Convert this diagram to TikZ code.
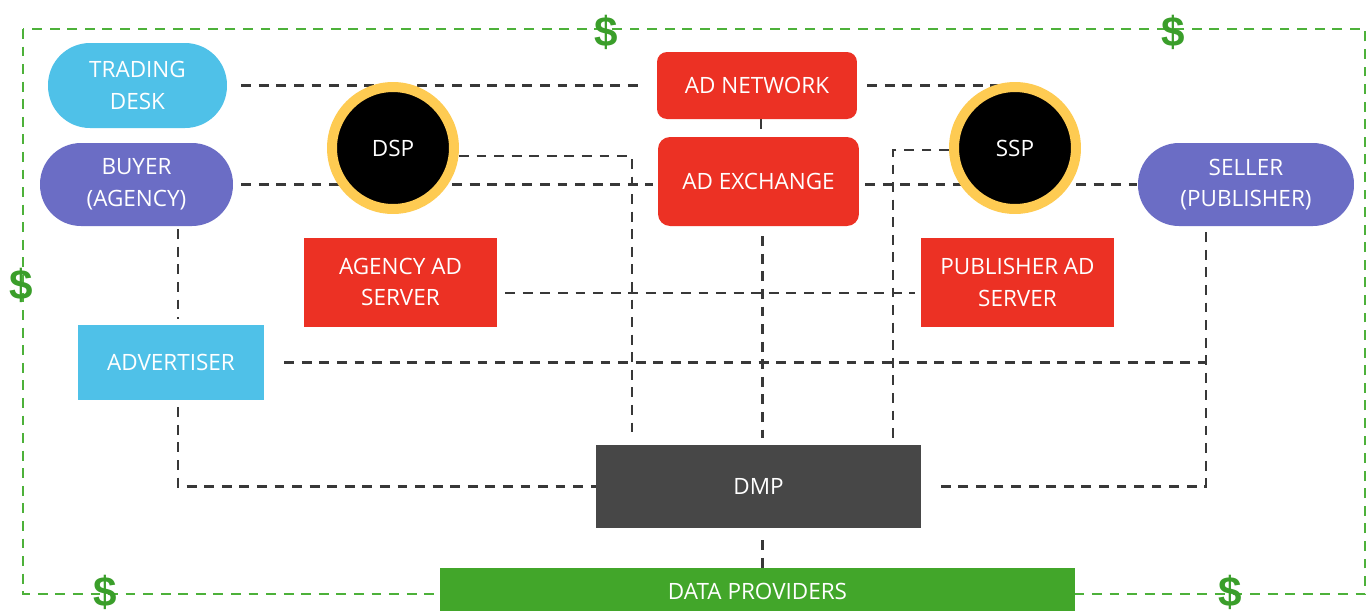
\documentclass[tikz,border=0pt]{standalone}
\usepackage{fontspec}
\setmainfont{Open Sans}
\newfontfamily\dollarfont{Liberation Sans}
\usetikzlibrary{backgrounds}
\definecolor{lblue}{HTML}{4FC1E8}
\definecolor{lpurple}{HTML}{6B6DC5}
\definecolor{adred}{HTML}{EC3124}
\definecolor{ringyellow}{HTML}{FECB52}
\definecolor{dmpgray}{HTML}{474747}
\definecolor{dpgreen}{HTML}{42A62A}
\definecolor{framegreen}{HTML}{4DB13A}
\definecolor{dollargreen}{HTML}{3A9E2A}
\definecolor{linegray}{HTML}{383838}
\tikzset{
  box/.style={inner sep=0pt, text=white, align=center,
    font=\fontsize{12.8pt}{18pt}\selectfont},
  pill/.style={box, rounded corners=0.82cm, minimum height=1.66cm},
  redbox/.style={box, fill=adred},
  ring/.style={box, circle, fill=black, draw=ringyellow, line width=0.2cm, minimum size=2.44cm},
  conn/.style={draw=linegray, line width=1.25pt, dash pattern=on 5.6pt off 4.4pt},
  frame/.style={draw=framegreen, line width=1.1pt, dash pattern=on 5.6pt off 4.4pt},
  dollar/.style={inner sep=0pt, text=dollargreen, font=\dollarfont\bfseries\fontsize{24pt}{24pt}\selectfont}
}
\begin{document}
\begin{tikzpicture}[x=0.02cm,y=-0.02cm]
\useasboundingbox (0,0) rectangle (1367,610);
% nodes
\node[pill, fill=lblue, minimum width=3.58cm, minimum height=1.70cm, rounded corners=0.84cm] (td) at (137.5,85.5) {TRADING\\DESK};
\node[pill, fill=lpurple, minimum width=3.86cm] (buyer) at (136.5,184.5) {BUYER\\(AGENCY)};
\node[pill, fill=lpurple, minimum width=4.32cm] (seller) at (1246,184.5) {SELLER\\(PUBLISHER)};
\node[redbox, rounded corners=0.2cm, minimum width=4.00cm, minimum height=1.34cm] (an) at (757,85.5) {AD NETWORK};
\node[redbox, rounded corners=0.24cm, minimum width=4.02cm, minimum height=1.78cm] (ax) at (758.5,181.5) {AD EXCHANGE};
\node[ring] (dsp) at (393,148) {DSP};
\node[ring] (ssp) at (1015,148) {SSP};
\node[redbox, minimum width=3.86cm, minimum height=1.78cm] (aas) at (400.5,282) {AGENCY AD\\SERVER};
\node[redbox, minimum width=3.86cm, minimum height=1.78cm] (pas) at (1017.5,282.5) {PUBLISHER AD\\SERVER};
\node[box, fill=lblue, minimum width=3.72cm, minimum height=1.50cm] (adv) at (171,362.5) {ADVERTISER};
\node[box, fill=dmpgray, minimum width=6.50cm, minimum height=1.66cm] (dmp) at (758.5,486.5) {DMP};
\node[box, fill=dpgreen, minimum width=12.70cm, minimum height=0.92cm] (dp) at (757.5,591) {DATA PROVIDERS};
% frame corners and joints
\coordinate (ftl) at (23,29);
\coordinate (fbr) at (1365,594);
\coordinate (sj) at ([xshift=-0.8cm]seller.south);
% dollars
\node[dollar] (d1) at (606,32) {\$};
\node[dollar] (d2) at (1173,32) {\$};
\node[dollar] (d3) at (21,285) {\$};
\node[dollar] (d4) at (105,592) {\$};
\node[dollar] (d5) at (1230,592) {\$};
\begin{pgfonlayer}{background}
\fill[white] (0,0) rectangle (1367,610);
\draw[frame] (ftl) rectangle (fbr);
% trading desk -- ad network -- ssp
\draw[conn, shorten <=0.28cm, shorten >=0.34cm] (td.east) -- (td.east -| an.west);
\draw[conn, shorten <=0.2cm] (an.east) -- (an.east -| ssp.center);
% buyer -- ad exchange -- seller
\draw[conn, shorten <=0.16cm, shorten >=0.1cm] (buyer.east) -- (buyer.east -| ax.west);
\draw[conn, shorten <=0.12cm, shorten >=0.02cm] (buyer.east -| ax.east) -- (seller.west);
% ad network -- ad exchange -- dmp -- data providers
\draw[conn] ([xshift=0.08cm]an.south) -- ([xshift=0.08cm]an.south |- ax.north);
\draw[conn, shorten <=0.2cm, shorten >=0.14cm] ([xshift=0.08cm]ax.south) -- ([xshift=0.08cm]ax.south |- dmp.north);
\draw[conn, shorten <=0.24cm] ([xshift=0.08cm]dmp.south) -- ([xshift=0.08cm]dmp.south |- dp.north);
% dsp -- dmp, ssp -- dmp
\draw[conn, shorten >=0.2cm] ([yshift=-0.16cm]dsp.east) -| ([xshift=0.72cm]dmp.north west);
\draw[conn, shorten >=0.14cm] ([yshift=-0.04cm]ssp.west) -| ([xshift=-0.56cm]dmp.north east);
% agency ad server -- publisher ad server
\draw[conn, shorten <=0.16cm, shorten >=0.12cm] ([yshift=-0.22cm]aas.east) -- ([yshift=-0.22cm]aas.east -| pas.west);
% seller -- dmp, advertiser joins it
\draw[conn, shorten <=0.12cm, shorten >=0.36cm] (sj) |- (dmp.east);
\draw[conn, shorten <=0.4cm] (adv.east) -- (adv.east -| sj);
% buyer -- advertiser -- dmp
\draw[conn, shorten <=0.06cm, shorten >=0.12cm] ([xshift=0.14cm]adv.north |- buyer.south) -- ([xshift=0.14cm]adv.north);
\draw[conn, shorten <=0.14cm] ([xshift=0.14cm]adv.south) |- (dmp.west);
\end{pgfonlayer}
\end{tikzpicture}
\end{document}
